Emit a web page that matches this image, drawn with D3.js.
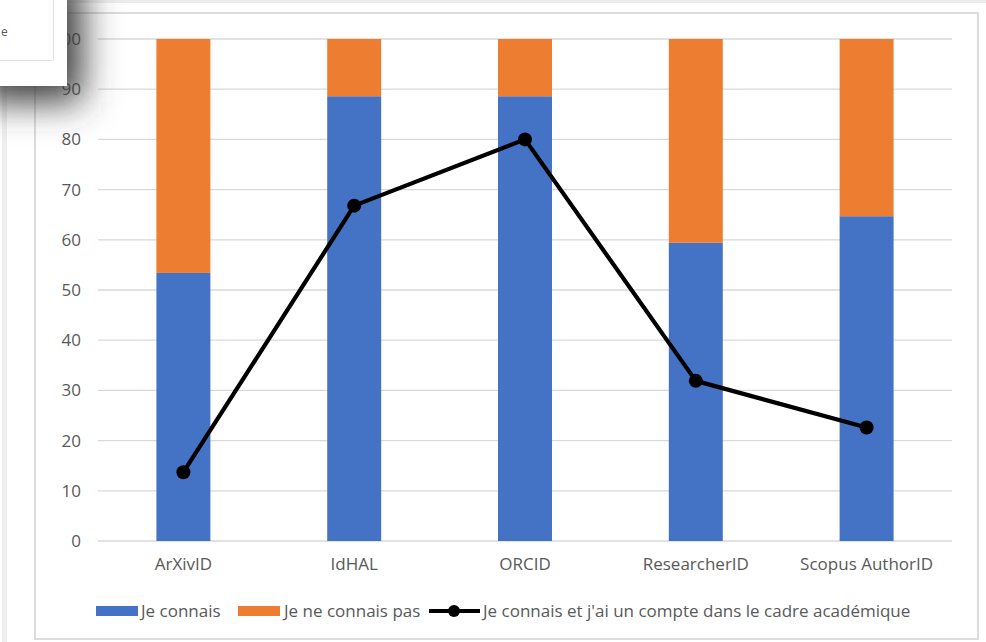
<!DOCTYPE html>
<html>
<head>
<meta charset="utf-8">
<script src="https://cdn.jsdelivr.net/npm/d3@7"></script>
<style>
  html, body { margin: 0; padding: 0; background: #fff; }
  svg { display: block; }
  text { font-family: "Open Sans", "Liberation Sans", sans-serif; fill: #595959; }
</style>
</head>
<body>
<svg id="chart" width="986" height="642"></svg>
<script>
const categories = ["ArXivID", "IdHAL", "ORCID", "ResearcherID", "Scopus AuthorID"];
const connais = [53.4, 88.6, 88.6, 59.4, 64.7];
const neConnaisPas = [46.6, 11.4, 11.4, 40.6, 35.3];
const compte = [13.7, 66.8, 80.0, 31.9, 22.6];
const yTicks = [0, 10, 20, 30, 40, 50, 60, 70, 80, 90, 100];
const seriesNames = ["Je connais", "Je ne connais pas", "Je connais et j'ai un compte dans le cadre académique"];
const colors = { blue: "#4472c4", orange: "#ed7d31", line: "#000000", grid: "#d9d9d9" };
const FS = "17px";

const svg = d3.select("#chart");

// outer screenshot frame elements
svg.append("rect").attr("x", 35).attr("y", 0).attr("width", 951).attr("height", 3).attr("fill", "#ececec");
svg.append("rect").attr("x", 2).attr("y", 0).attr("width", 5).attr("height", 642).attr("fill", "#efefef");
svg.append("rect").attr("x", 35).attr("y", 13).attr("width", 943).attr("height", 626)
  .attr("fill", "#fff").attr("stroke", "#dcdcdc").attr("stroke-width", 2);

const x = d3.scaleBand().domain(categories).range([98, 952]).paddingInner(0.684).paddingOuter(0.342);
const y = d3.scaleLinear().domain([0, 100]).range([541, 39]);

// gridlines
svg.append("g").selectAll("line").data(yTicks).join("line")
  .attr("x1", 98).attr("x2", 952)
  .attr("y1", d => y(d)).attr("y2", d => y(d))
  .attr("stroke", colors.grid).attr("stroke-width", 1.3);

// y axis labels
const yAxis = d3.axisLeft(y).tickValues(yTicks).tickSize(0).tickPadding(0);
const gy = svg.append("g").attr("transform", "translate(81,0)").call(yAxis);
gy.select(".domain").remove();
gy.selectAll("text").style("font-size", FS).attr("fill", "#595959")
  .style("font-family", "'Open Sans', sans-serif");

// stacked bars
const data = categories.map((c, i) => ({ c, a: connais[i], b: neConnaisPas[i], l: compte[i] }));
svg.append("g").selectAll("rect").data(data).join("rect")
  .attr("x", d => x(d.c)).attr("width", x.bandwidth())
  .attr("y", d => y(d.a)).attr("height", d => y(0) - y(d.a))
  .attr("fill", colors.blue);
svg.append("g").selectAll("rect").data(data).join("rect")
  .attr("x", d => x(d.c)).attr("width", x.bandwidth())
  .attr("y", d => y(d.a + d.b)).attr("height", d => y(d.a) - y(d.a + d.b))
  .attr("fill", colors.orange);

// line
const cx = d => x(d.c) + x.bandwidth() / 2;
svg.append("path").datum(data)
  .attr("d", d3.line().x(cx).y(d => y(d.l)))
  .attr("fill", "none").attr("stroke", colors.line).attr("stroke-width", 4.2).attr("stroke-linejoin", "round");
svg.append("g").selectAll("circle").data(data).join("circle")
  .attr("cx", cx).attr("cy", d => y(d.l)).attr("r", 7).attr("fill", colors.line);

// x axis labels
const xAxis = d3.axisBottom(x).tickSize(0).tickPadding(0);
const gx = svg.append("g").attr("transform", "translate(0,558)").call(xAxis);
gx.select(".domain").remove();
gx.selectAll("text").style("font-size", FS).attr("fill", "#595959")
  .style("font-family", "'Open Sans', sans-serif");

// legend
const lg = svg.append("g").attr("transform", "translate(0,611)");
lg.append("rect").attr("x", 96).attr("y", -5).attr("width", 42).attr("height", 10).attr("fill", colors.blue);
lg.append("text").attr("x", 141).attr("y", 6).style("font-size", FS).text(seriesNames[0]);
lg.append("rect").attr("x", 238).attr("y", -5).attr("width", 42).attr("height", 10).attr("fill", colors.orange);
lg.append("text").attr("x", 284).attr("y", 6).style("font-size", FS).text(seriesNames[1]);
lg.append("line").attr("x1", 429).attr("x2", 480).attr("y1", 0).attr("y2", 0).attr("stroke", "#000").attr("stroke-width", 4);
lg.append("circle").attr("cx", 454).attr("cy", 0).attr("r", 6).attr("fill", "#000");
lg.append("text").attr("x", 483).attr("y", 6).style("font-size", FS).text(seriesNames[2]);

// overlay window with shadow in the top-left corner
const defs = svg.append("defs");
const f = defs.append("filter").attr("id", "blur").attr("x", "-100%").attr("y", "-100%").attr("width", "300%").attr("height", "300%");
f.append("feGaussianBlur").attr("stdDeviation", 18);
svg.append("rect").attr("x", -20).attr("y", -20).attr("width", 102).attr("height", 122)
  .attr("fill", "#3a3a3a").attr("filter", "url(#blur)");
svg.append("rect").attr("x", 0).attr("y", 0).attr("width", 67).attr("height", 86).attr("fill", "#fff");
svg.append("path").attr("d", "M0,60.5 H53.5 V0").attr("fill", "none").attr("stroke", "#e2e2e2").attr("stroke-width", 1);
svg.append("text").attr("x", 1).attr("y", 36).style("font-size", "12px").attr("fill", "#999").text("e");
</script>
</body>
</html>
